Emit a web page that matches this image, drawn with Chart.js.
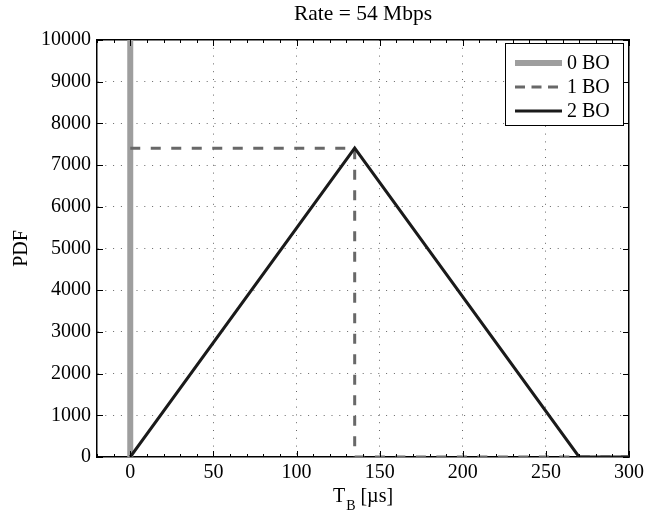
<!DOCTYPE html>
<html lang="en">
<head>
<meta charset="UTF-8">
<title>Rate = 54 Mbps</title>
<style>
  body { margin: 0; background: #fff; }
  #wrap { width: 648px; height: 513px; }
</style>
</head>
<body>
<div id="wrap"><canvas id="pdfChart" width="648" height="513"></canvas></div>
<script src="https://cdn.jsdelivr.net/npm/chart.js"></script>
<script>
  // Backoff time PDFs at 54 Mbps, T_B in microseconds
  const zeroBoX = [0, 0];
  const zeroBoY = [0, 10000];
  const oneBoX = [0, 135, 135, 300];
  const oneBoY = [7407, 7407, 0, 0];
  const twoBoX = [0, 135, 270, 300];
  const twoBoY = [0, 7407, 0, 0];

  const seriesLabels = ['0 BO', '1 BO', '2 BO'];
  const xTicks = [0, 50, 100, 150, 200, 250, 300];
  const yTicks = [0, 1000, 2000, 3000, 4000, 5000, 6000, 7000, 8000, 9000, 10000];
  const xMin = -20, xMax = 300, yMin = 0, yMax = 10000;
  const xMinorStep = 10;

  const serif = '"Liberation Serif", "Times New Roman", serif';
  const dotted = [1, 6.8];
  const gridColor = 'rgba(0,0,0,0.6)';

  Chart.defaults.font.family = serif;
  Chart.defaults.color = '#000';

  function pts(xs, ys) {
    return xs.map((x, i) => ({ x: x, y: ys[i] }));
  }

  function fixSize(size) {
    return function(scale) {
      if (scale.isHorizontal()) scale.height = size;
      else scale.width = size;
    };
  }

  // inward ticks on all four sides, legend box and the x label with subscript
  const frame = {
    id: 'frame',
    afterDatasetsDraw(chart) {
      const { ctx, chartArea: a, scales: { x, y } } = chart;
      ctx.save();
      ctx.strokeStyle = '#000';
      ctx.lineWidth = 1;
      ctx.beginPath();
      for (let v = Math.ceil(x.min / xMinorStep) * xMinorStep; v <= x.max; v += xMinorStep) {
        const px = Math.round(x.getPixelForValue(v)) + 0.5;
        const len = xTicks.includes(v) ? 6 : 3;
        ctx.moveTo(px, a.bottom); ctx.lineTo(px, a.bottom - len);
        ctx.moveTo(px, a.top); ctx.lineTo(px, a.top + len);
      }
      yTicks.forEach(v => {
        const py = Math.round(y.getPixelForValue(v)) + 0.5;
        ctx.moveTo(a.left, py); ctx.lineTo(a.left + 6, py);
        ctx.moveTo(a.right, py); ctx.lineTo(a.right - 6, py);
      });
      ctx.stroke();
      ctx.restore();
    },
    afterDraw(chart) {
      const { ctx, chartArea: a } = chart;
      ctx.save();

      // legend
      const bx = 505.5, by = 43.5, bw = 118, bh = 82;
      ctx.fillStyle = '#fff';
      ctx.fillRect(bx, by, bw, bh);
      ctx.strokeStyle = '#000';
      ctx.lineWidth = 1;
      ctx.strokeRect(bx, by, bw, bh);
      ctx.font = '20px ' + serif;
      ctx.textBaseline = 'middle';
      ctx.textAlign = 'left';
      chart.data.datasets.forEach((ds, i) => {
        const ry = 63 + i * 24;
        ctx.save();
        ctx.strokeStyle = ds.borderColor;
        ctx.lineWidth = ds.borderWidth;
        ctx.setLineDash(ds.borderDash ? [10, 6.5] : []);
        ctx.beginPath();
        ctx.moveTo(515, ry);
        ctx.lineTo(562, ry);
        ctx.stroke();
        ctx.restore();
        ctx.fillStyle = '#000';
        ctx.fillText(ds.label, 567, ry + 1);
      });

      // x axis label: T_B [µs]
      const big = '20px ' + serif, small = '14px ' + serif;
      ctx.textBaseline = 'alphabetic';
      ctx.font = big;
      const wT = ctx.measureText('T').width;
      const wRest = ctx.measureText(' [\u00b5s]').width;
      ctx.font = small;
      const wB = ctx.measureText('B').width;
      let sx = (a.left + a.right) / 2 - (wT + 1 + wB + wRest) / 2;
      ctx.fillStyle = '#000';
      ctx.font = big;
      ctx.fillText('T', sx, 502);
      ctx.font = small;
      ctx.fillText('B', sx + wT + 1, 510);
      ctx.font = big;
      ctx.fillText(' [\u00b5s]', sx + wT + 1 + wB, 502);
      ctx.restore();
    }
  };

  const tickFont = { family: serif, size: 20, weight: 'normal' };

  const ctx = document.getElementById('pdfChart').getContext('2d');
  new Chart(ctx, {
    type: 'line',
    data: {
      datasets: [
        {
          label: seriesLabels[0],
          data: pts(zeroBoX, zeroBoY),
          borderColor: '#9e9e9e',
          borderWidth: 6,
          order: 2
        },
        {
          label: seriesLabels[1],
          data: pts(oneBoX, oneBoY),
          borderColor: '#686868',
          borderWidth: 3,
          borderDash: [10, 10.5],
          order: 1
        },
        {
          label: seriesLabels[2],
          data: pts(twoBoX, twoBoY),
          borderColor: '#1a1a1a',
          borderWidth: 3,
          order: 0
        }
      ]
    },
    options: {
      responsive: false,
      devicePixelRatio: 1,
      animation: false,
      layout: { padding: 0 },
      elements: {
        point: { radius: 0, hoverRadius: 0 },
        line: { tension: 0, fill: false, borderCapStyle: 'butt', borderJoinStyle: 'miter' }
      },
      plugins: {
        legend: { display: false },
        tooltip: { enabled: false }
      },
      scales: {
        x: {
          type: 'linear',
          position: 'bottom',
          min: xMin,
          max: xMax,
          afterBuildTicks: s => { s.ticks = xTicks.map(v => ({ value: v })); },
          afterFit: fixSize(56),
          ticks: {
            padding: 4,
            color: '#000',
            font: tickFont,
            maxRotation: 0,
            autoSkip: false,
            callback: v => String(v)
          },
          grid: {
            drawTicks: false,
            color: c => (c.tick && c.tick.value === xMax) ? 'rgba(0,0,0,0)' : gridColor,
            lineWidth: 1
          },
          border: { display: true, color: '#000', width: 1.5, dash: dotted }
        },
        x2: {
          type: 'linear',
          position: 'top',
          min: xMin,
          max: xMax,
          afterFit: fixSize(40),
          ticks: { display: false },
          grid: { display: false, drawTicks: false },
          border: { display: true, color: '#000', width: 1.5 },
          title: {
            display: true,
            text: 'Rate = 54 Mbps',
            color: '#000',
            font: { family: serif, size: 21.5 },
            padding: { top: 1, bottom: 0 }
          }
        },
        y: {
          type: 'linear',
          position: 'left',
          min: yMin,
          max: yMax,
          afterBuildTicks: s => { s.ticks = yTicks.map(v => ({ value: v })); },
          afterFit: fixSize(97),
          ticks: {
            padding: 6,
            color: '#000',
            font: tickFont,
            callback: v => String(v)
          },
          grid: {
            drawTicks: false,
            color: c => (c.tick && (c.tick.value === yMin || c.tick.value === yMax)) ? 'rgba(0,0,0,0)' : gridColor,
            lineWidth: 1
          },
          border: { display: true, color: '#000', width: 1.5, dash: dotted },
          title: {
            display: true,
            text: 'PDF',
            color: '#000',
            font: { family: serif, size: 20 },
            padding: { top: 10, bottom: 0 }
          }
        },
        y2: {
          type: 'linear',
          position: 'right',
          min: yMin,
          max: yMax,
          afterFit: fixSize(17),
          ticks: { display: false },
          grid: { display: false, drawTicks: false },
          border: { display: true, color: '#000', width: 1.5 }
        }
      }
    },
    plugins: [frame]
  });
</script>
</body>
</html>
